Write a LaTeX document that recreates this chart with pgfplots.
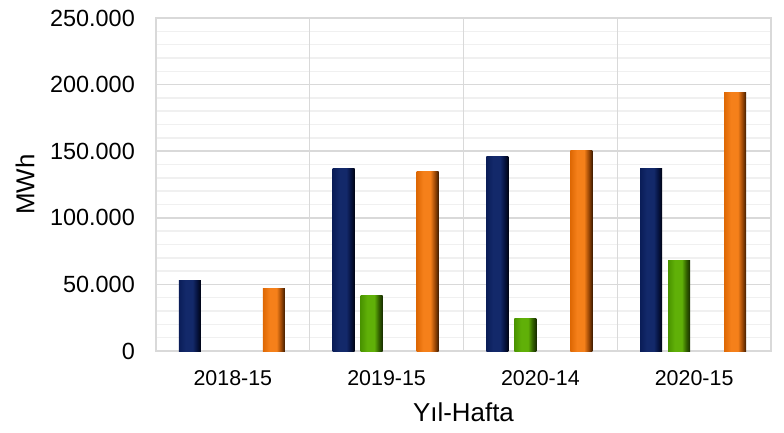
\documentclass[border=0pt]{standalone}
\usepackage{pgfplots}
\pgfplotsset{compat=1.18}
\usepackage{fontspec}
\setmainfont{Liberation Sans}
\definecolor{gridmaj}{HTML}{D9D9D9}
\definecolor{gridmin}{HTML}{F0F0F0}
\definecolor{navyA}{HTML}{0A1D58}
\definecolor{navyB}{HTML}{13296A}
\definecolor{navyC}{HTML}{061340}
\definecolor{navyD}{HTML}{000412}
\definecolor{greenA}{HTML}{4A9400}
\definecolor{greenB}{HTML}{60B008}
\definecolor{greenC}{HTML}{336200}
\definecolor{greenD}{HTML}{172B00}
\definecolor{orA}{HTML}{DE6804}
\definecolor{orB}{HTML}{F5801A}
\definecolor{orC}{HTML}{A04A06}
\definecolor{orD}{HTML}{3F1C00}
\pgfdeclarehorizontalshading{navyshade}{100bp}{color(0bp)=(navyA); color(25bp)=(navyA); color(40bp)=(navyB); color(56bp)=(navyB); color(66bp)=(navyC); color(75bp)=(navyD); color(100bp)=(navyD)}
\pgfdeclarehorizontalshading{greenshade}{100bp}{color(0bp)=(greenA); color(25bp)=(greenA); color(40bp)=(greenB); color(56bp)=(greenB); color(66bp)=(greenC); color(75bp)=(greenD); color(100bp)=(greenD)}
\pgfdeclarehorizontalshading{orshade}{100bp}{color(0bp)=(orA); color(25bp)=(orA); color(40bp)=(orB); color(56bp)=(orB); color(66bp)=(orC); color(75bp)=(orD); color(100bp)=(orD)}
\pgfplotsset{
  navybar/.style={ybar, bar width=22bp, bar shift=-43bp, draw=none, shading=navyshade},
  greenbar/.style={ybar, bar width=22bp, bar shift=-15bp, draw=none, shading=greenshade},
  orbar/.style={ybar, bar width=22bp, bar shift=41bp, draw=none, shading=orshade},
}
\begin{document}
\begin{tikzpicture}
\begin{axis}[
  at={(0,0)}, anchor=south west,
  scale only axis, width=615bp, height=333bp,
  xmin=-0.5, xmax=3.5, ymin=0, ymax=250000,
  scaled y ticks=false,
  xtick={0,1,2,3},
  xticklabels={2018-15,2019-15,2020-14,2020-15},
  extra x ticks={0.5,1.5,2.5},
  extra x tick labels={},
  extra x tick style={xmajorgrids=true, major tick length=0pt},
  ytick={0,50000,100000,150000,200000,250000},
  yticklabels={0,50.000,100.000,150.000,200.000,250.000},
  minor y tick num=4,
  ymajorgrids, yminorgrids,
  major grid style={gridmaj, line width=1.5bp},
  minor grid style={gridmin, line width=1.5bp},
  major tick length=0pt, minor tick length=0pt,
  axis line style={gridmaj, line width=1.5bp},
  yticklabel style={font=\fontsize{23.5}{23.5}\selectfont, text=black, anchor=east, inner sep=0pt, xshift=-21bp},
  xticklabel style={font=\fontsize{21.5}{21.5}\selectfont, text=black, anchor=base, inner sep=0pt, yshift=-34bp},
  label style={font=\fontsize{26}{26}\selectfont},
  xlabel={Yıl-Hafta},
  ylabel={MWh},
  xlabel style={at={(axis description cs:0.5,-0.183)}, anchor=center},
  ylabel style={at={(axis description cs:-0.213,0.5)}, anchor=center},
]
% series 1 (navy)
\addplot[navybar] coordinates {(0,53300)};
\addplot[navybar] coordinates {(1,136900)};
\addplot[navybar] coordinates {(2,145900)};
\addplot[navybar] coordinates {(3,137100)};
% series 2 (green)
\addplot[greenbar] coordinates {(1,41800)};
\addplot[greenbar] coordinates {(2,24300)};
\addplot[greenbar] coordinates {(3,68300)};
% series 4 (orange)
\addplot[orbar] coordinates {(0,46800)};
\addplot[orbar] coordinates {(1,134600)};
\addplot[orbar] coordinates {(2,150400)};
\addplot[orbar] coordinates {(3,193700)};
\end{axis}
\pgfresetboundingbox
\useasboundingbox (-156bp,-82bp) rectangle (628bp,351bp);
\end{tikzpicture}
\end{document}
